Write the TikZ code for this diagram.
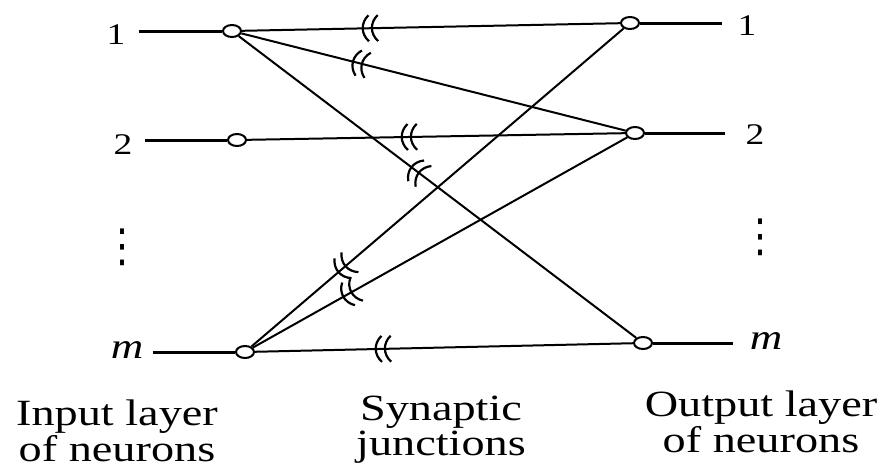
\documentclass[tikz,border=0pt]{standalone}
\usepackage{fontspec}
\setmainfont{Liberation Serif}
\newfontfamily\symfont{DejaVu Sans}
\usepackage{graphicx}
\usetikzlibrary{shapes.geometric,decorations.markings}

\newcommand{\wide}[1]{\scalebox{1.25}[1]{#1}}
\newcommand{\junction}{%
  \draw[line width=1.1pt] (-0.9pt,6.5pt) .. controls (-4.9pt,2.8pt) and (-4.9pt,-2.8pt) .. (-0.9pt,-6.5pt);
  \draw[line width=1.1pt] (3.7pt,6.5pt) .. controls (-0.3pt,2.8pt) and (-0.3pt,-2.8pt) .. (3.7pt,-6.5pt);}

\begin{document}
\begin{tikzpicture}[x=0.5pt, y=-0.5pt,
    neuron/.style={ellipse, draw, fill=white, line width=1pt,
                   minimum width=9pt, minimum height=6pt, inner sep=0pt},
    stub/.style={line width=1.5pt},
    syn/.style={line width=1pt},
    junc/.style={postaction={decorate, decoration={markings,
                 mark=at position #1 with {\junction}}}},
    num/.style={font=\fontsize{15}{17}\selectfont, inner sep=0pt},
    dotlbl/.style={font=\symfont\fontsize{19}{21}\selectfont, inner sep=0pt},
    caption/.style={font=\fontsize{18.5}{14.5}\selectfont, align=center,
                    inner sep=0pt, anchor=north}
  ]
    \useasboundingbox (0,0) rectangle (885,468);

    % Neurons
    \node[neuron] (in1) at (232,31) {};
    \node[neuron] (in2) at (237,140) {};
    \node[neuron] (inm) at (245,352) {};
    \node[neuron] (out1) at (630,23) {};
    \node[neuron] (out2) at (635,133) {};
    \node[neuron] (outm) at (643,343) {};

    % Index labels
    \node[num] (lin1) at (116,35) {\wide{1}};
    \node[num] (lin2) at (123,145) {\wide{2}};
    \node[dotlbl] (lindots) at (123,247) {\scalebox{1}[1.2]{⋮}};
    \node[num, font=\fontsize{18}{20}\selectfont] (linm) at (127,350) {\wide{\itshape m}};
    \node[num] (lout1) at (747,26) {\wide{1}};
    \node[num] (lout2) at (755,135) {\wide{2}};
    \node[dotlbl] (loutdots) at (760,237) {\scalebox{1}[1.2]{⋮}};
    \node[num, font=\fontsize{18}{20}\selectfont] (loutm) at (766,341) {\wide{\itshape m}};

    % Input and output stubs
    \coordinate (s1) at (139,31);
    \coordinate (s2) at (145,140);
    \coordinate (sm) at (153,352);
    \coordinate (t1) at (722,23);
    \coordinate (t2) at (725,133);
    \coordinate (tm) at (733,343);
    \draw[stub] (s1) -- (in1);
    \draw[stub] (s2) -- (in2);
    \draw[stub] (sm) -- (inm);
    \draw[stub] (out1) -- (t1);
    \draw[stub] (out2) -- (t2);
    \draw[stub] (outm) -- (tm);

    % Synapses
    \draw[syn, junc=0.34] (in1) -- (out1);
    \draw[syn, junc=0.31] (in1) -- (out2);
    \draw[syn, junc=0.45] (in1) -- (outm);
    \draw[syn, junc=0.43] (in2) -- (out2);
    \draw[syn, junc=0.25] (inm) -- (out1);
    \draw[syn, junc=0.26] (inm) -- (out2);
    \draw[syn, junc=0.34] (inm) -- (outm);

    % Captions
    \node[caption] (capin) at (117,399) {\wide{Input layer}\\\wide{of neurons}};
    \node[caption] (capsyn) at (441,396) {\wide{Synaptic}\\\wide{junctions}};
    \node[caption] (capout) at (761,390) {\wide{Output layer}\\\wide{of neurons}};
\end{tikzpicture}
\end{document}
